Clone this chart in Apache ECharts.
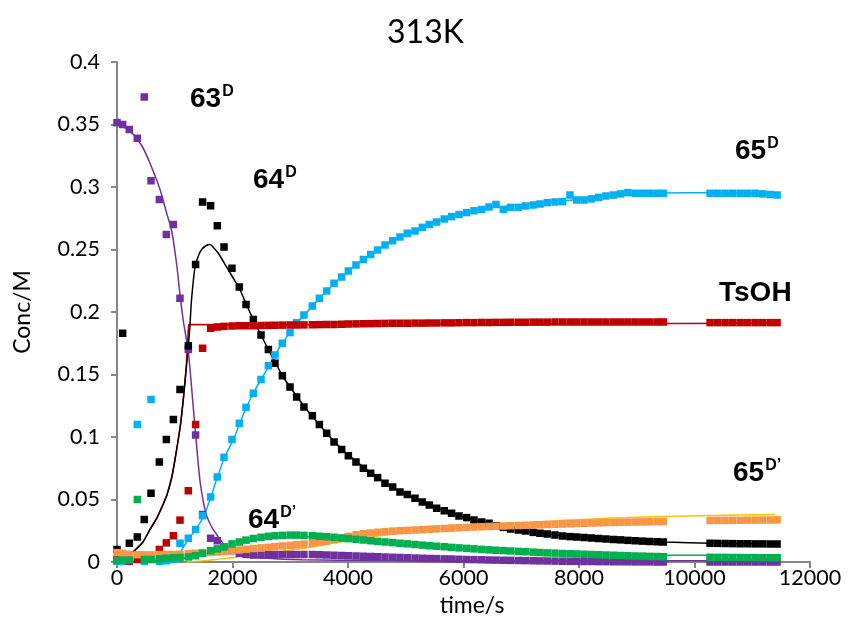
<!DOCTYPE html>
<html>
<head>
<meta charset="utf-8">
<script src="https://cdn.jsdelivr.net/npm/echarts@6/dist/echarts.min.js"></script>
<style>
  html, body { margin: 0; padding: 0; background: #fff; }
  #chart { width: 851px; height: 630px; }
</style>
</head>
<body>
<div id="chart"></div>
<script>
// Sampling times (s) shared by all measured species
const times = [
  0, 98, 213, 352, 472, 589, 733, 854, 976, 1091,
  1235, 1361, 1482, 1621, 1737, 1853, 1991, 2118, 2234, 2361,
  2494, 2621, 2736, 2863, 2996, 3111, 3237, 3383, 3504, 3631,
  3758, 3890, 4006, 4138, 4266, 4393, 4513, 4641, 4773, 4900,
  5027, 5160, 5287, 5408, 5535, 5667, 5794, 5922, 6054, 6182,
  6314, 6441, 6563, 6690, 6817, 6950, 7076, 7206, 7325, 7450,
  7584, 7716, 7844, 7960, 8087, 8213, 8340, 8466, 8593, 8719,
  8846, 8972, 9099, 9225, 9352, 9460,
  10270, 10400, 10530, 10660, 10790, 10920, 11050, 11180, 11310, 11430
];

// Measured concentrations (M)
const conc63D = [
  0.3515, 0.350, 0.346, 0.339, 0.372, 0.305, 0.290, 0.262, 0.270, 0.211,
  0.170, 0.1016, 0.038, 0.019, 0.017, 0.012, 0.009, 0.007, 0.006, 0.0055,
  0.0055, 0.006, 0.006, 0.006, 0.006, 0.006, 0.006, 0.006, 0.0058, 0.0056,
  0.0054, 0.0052, 0.005, 0.0048, 0.0046, 0.0044, 0.0042, 0.004, 0.0038, 0.0036,
  0.0034, 0.0032, 0.003, 0.0028, 0.0027, 0.0025, 0.0024, 0.0022, 0.002, 0.0019,
  0.0018, 0.0016, 0.0015, 0.0014, 0.0013, 0.0012, 0.0011, 0.001, 0.0009, 0.0008,
  0.0007, 0.0006, 0.0005, 0.0005, 0.0004, 0.0004, 0.0003, 0.0003, 0.0002, 0.0002,
  0.0002, 0.0001, 0.0001, 0.0001, 0.0, 0.0,
  0, 0, 0, 0, 0, 0, 0, 0, 0, 0
];
const conc64D = [
  0.010, 0.183, 0.015, 0.020, 0.034, 0.055, 0.080, 0.098, 0.114, 0.138,
  0.173, 0.238, 0.288, 0.285, 0.269, 0.252, 0.235, 0.220, 0.206, 0.194,
  0.1816, 0.170, 0.159, 0.149, 0.140, 0.132, 0.124, 0.117, 0.110, 0.103,
  0.096, 0.090, 0.085, 0.080, 0.075, 0.071, 0.0675, 0.063, 0.060, 0.056,
  0.054, 0.051, 0.048, 0.0456, 0.043, 0.041, 0.039, 0.0368, 0.0355, 0.0336,
  0.032, 0.031, 0.029, 0.0277, 0.0264, 0.0256, 0.0248, 0.0237, 0.023, 0.0224,
  0.0216, 0.0208, 0.0203, 0.020, 0.0196, 0.0192, 0.0188, 0.0184, 0.018, 0.0177,
  0.0173, 0.017, 0.0167, 0.0164, 0.0162, 0.016,
  0.015, 0.0149, 0.0148, 0.0147, 0.0146, 0.0146, 0.0145, 0.0145, 0.0144, 0.0144
];
const conc65D = [
  0.0005, 0.0005, 0.0005, 0.110, 0.0005, 0.130, 0.0005, 0.001, 0.002, 0.015,
  0.019, 0.026, 0.037, 0.052, 0.068, 0.0837, 0.098, 0.111, 0.1237, 0.135,
  0.146, 0.157, 0.1656, 0.175, 0.1835, 0.1915, 0.1976, 0.2048, 0.211, 0.2168,
  0.223, 0.228, 0.2328, 0.2376, 0.242, 0.246, 0.2496, 0.2536, 0.257, 0.260,
  0.263, 0.2648, 0.2677, 0.270, 0.272, 0.2744, 0.2763, 0.278, 0.2795, 0.281,
  0.282, 0.284, 0.286, 0.282, 0.2837, 0.2837, 0.2848, 0.2856, 0.2864, 0.2875,
  0.288, 0.2883, 0.2936, 0.2896, 0.2896, 0.2905, 0.2917, 0.2928, 0.2936, 0.2945,
  0.2955, 0.295, 0.295, 0.295, 0.295, 0.295,
  0.295, 0.295, 0.295, 0.295, 0.295, 0.295, 0.295, 0.2945, 0.294, 0.2936
];
const concTsOH = [
  0.002, 0.002, 0.0007, 0.002, 0.003, 0.004, 0.010, 0.0153, 0.021, 0.0335,
  0.057, 0.110, 0.171, 0.187, 0.188, 0.1885, 0.1888, 0.189, 0.189, 0.189,
  0.1892, 0.1893, 0.1894, 0.1895, 0.1896, 0.1896, 0.1897, 0.1898, 0.1899, 0.190,
  0.190, 0.1902, 0.1904, 0.1905, 0.1906, 0.1907, 0.1908, 0.1909, 0.191, 0.191,
  0.191, 0.1911, 0.1911, 0.1912, 0.1912, 0.1913, 0.1913, 0.1914, 0.1915, 0.1915,
  0.1916, 0.1916, 0.1917, 0.1917, 0.1918, 0.1918, 0.1918, 0.1919, 0.1919, 0.1919,
  0.192, 0.192, 0.192, 0.192, 0.192, 0.192, 0.192, 0.192, 0.192, 0.192,
  0.192, 0.192, 0.192, 0.192, 0.192, 0.192,
  0.1915, 0.1915, 0.1915, 0.1915, 0.1915, 0.1915, 0.1915, 0.1915, 0.1915, 0.1915
];
const conc64Dp = [
  0.0012, 0.0015, 0.0015, 0.050, 0.002, 0.002, 0.0025, 0.003, 0.0034, 0.0036,
  0.004, 0.005, 0.007, 0.009, 0.0105, 0.012, 0.0145, 0.016, 0.0175, 0.0188,
  0.0198, 0.0205, 0.021, 0.0213, 0.0215, 0.0215, 0.0213, 0.021, 0.0206, 0.0202,
  0.0198, 0.0192, 0.0187, 0.0181, 0.0176, 0.017, 0.0165, 0.016, 0.0155, 0.015,
  0.0145, 0.014, 0.0135, 0.013, 0.0126, 0.0122, 0.0117, 0.0113, 0.0109, 0.0105,
  0.0101, 0.0097, 0.0094, 0.0091, 0.0088, 0.0085, 0.0082, 0.0079, 0.0076, 0.0073,
  0.0071, 0.0068, 0.0066, 0.0064, 0.0062, 0.006, 0.0058, 0.0056, 0.0054, 0.0052,
  0.005, 0.0048, 0.0047, 0.0045, 0.0044, 0.0042,
  0.0038, 0.0037, 0.0037, 0.0036, 0.0036, 0.0035, 0.0035, 0.0034, 0.0034, 0.0034
];
const conc65Dp = [
  0.0075, 0.007, 0.006, 0.0058, 0.0057, 0.0057, 0.006, 0.006, 0.006, 0.0062,
  0.0066, 0.007, 0.0073, 0.0076, 0.008, 0.0085, 0.009, 0.0096, 0.0102, 0.0108,
  0.0113, 0.0118, 0.0123, 0.0128, 0.0133, 0.0138, 0.0143, 0.015, 0.0158, 0.0167,
  0.0178, 0.019, 0.0205, 0.0218, 0.0226, 0.0232, 0.0238, 0.0243, 0.0247, 0.025,
  0.0253, 0.0256, 0.0259, 0.0262, 0.0265, 0.0268, 0.0271, 0.0274, 0.0277, 0.028,
  0.0282, 0.0284, 0.0286, 0.0288, 0.029, 0.0292, 0.0294, 0.0296, 0.0298, 0.030,
  0.0302, 0.0304, 0.0306, 0.0308, 0.031, 0.0312, 0.0313, 0.0315, 0.0316, 0.0318,
  0.0319, 0.032, 0.0321, 0.0322, 0.0323, 0.0324,
  0.0332, 0.0333, 0.0333, 0.0334, 0.0334, 0.0335, 0.0335, 0.0336, 0.0336, 0.0337
];

// Simulated (fitted) curves as [time, conc] pairs
const fit63D = [
  [0, 0.351], [150, 0.347], [283, 0.342], [430, 0.333], [571, 0.319], [745, 0.298],
  [860, 0.279], [947, 0.265], [1033, 0.238], [1091, 0.214], [1148, 0.193], [1235, 0.168],
  [1300, 0.135], [1361, 0.102], [1437, 0.065], [1500, 0.047], [1552, 0.037], [1640, 0.028],
  [1725, 0.022], [1800, 0.017], [1900, 0.012], [2050, 0.008], [2250, 0.005], [2600, 0.003],
  [3200, 0.0018], [4500, 0.0012], [7000, 0.001], [11400, 0.001]
];
const fit64D = [
  [170, 0.005], [300, 0.009], [450, 0.016], [571, 0.026], [700, 0.036], [860, 0.053],
  [950, 0.068], [1033, 0.09], [1100, 0.11], [1148, 0.13], [1200, 0.155], [1235, 0.173],
  [1264, 0.19], [1291, 0.21], [1351, 0.236], [1410, 0.245], [1466, 0.25], [1540, 0.253],
  [1610, 0.254], [1680, 0.251], [1754, 0.247], [1899, 0.236], [2000, 0.228], [2118, 0.219],
  [2250, 0.205], [2361, 0.194], [2500, 0.181], [2621, 0.17], [2750, 0.159], [2863, 0.149],
  [2996, 0.14], [3250, 0.124], [3500, 0.11], [3750, 0.097], [4000, 0.086], [4500, 0.068],
  [5000, 0.054], [5500, 0.044], [6000, 0.036], [6500, 0.03], [7000, 0.025], [7500, 0.0222],
  [8000, 0.02], [8500, 0.0183], [9000, 0.017], [9500, 0.016], [10300, 0.015], [11400, 0.0144]
];
const fit65D = [
  [1000, 0.0], [1050, 0.003], [1100, 0.008], [1150, 0.012], [1235, 0.018], [1361, 0.026],
  [1495, 0.036], [1610, 0.05], [1725, 0.066], [1857, 0.083], [2015, 0.098], [2118, 0.11],
  [2234, 0.123], [2361, 0.135], [2494, 0.146], [2621, 0.156], [2736, 0.1656], [2863, 0.175],
  [2996, 0.1835], [3111, 0.191], [3383, 0.2045], [3631, 0.2168], [3890, 0.228], [4138, 0.2376],
  [4393, 0.246], [4641, 0.2536], [4900, 0.26], [5160, 0.265], [5408, 0.27], [5667, 0.2744],
  [5922, 0.278], [6182, 0.281], [6441, 0.2835], [6690, 0.2845], [6950, 0.2855], [7206, 0.2865],
  [7450, 0.2875], [7716, 0.2888], [7960, 0.29], [8466, 0.2925], [8972, 0.2945], [9460, 0.2952],
  [10300, 0.2955], [11400, 0.2945]
];
const fitTsOH = [
  [170, 0.005], [300, 0.009], [450, 0.016], [571, 0.026], [700, 0.036], [860, 0.053],
  [950, 0.068], [1033, 0.09], [1100, 0.11], [1148, 0.13], [1200, 0.157], [1225, 0.178],
  [1240, 0.19], [3000, 0.1898], [6000, 0.1905], [11400, 0.191]
];
const fit64Dp = [
  [0, 0.0], [500, 0.0008], [1000, 0.002], [1300, 0.004], [1500, 0.006], [1800, 0.01],
  [2100, 0.0145], [2400, 0.0178], [2700, 0.0196], [3000, 0.0203], [3300, 0.0203], [3700, 0.0195],
  [4200, 0.0175], [4700, 0.0153], [5200, 0.0132], [5700, 0.0114], [6200, 0.0098], [6700, 0.0085],
  [7200, 0.0075], [7700, 0.0067], [8200, 0.0061], [8700, 0.0057], [9200, 0.0055], [9700, 0.0054],
  [10300, 0.0054], [11400, 0.0053]
];
const fit65Dp = [
  [1200, 0.0], [1500, 0.001], [1800, 0.0025], [2200, 0.0045], [2600, 0.0068], [3000, 0.0095],
  [3500, 0.013], [3800, 0.0155], [4500, 0.0205], [5000, 0.0235], [5500, 0.026], [6000, 0.028],
  [6500, 0.0298], [7000, 0.0313], [7500, 0.0327], [8000, 0.0339], [8500, 0.035], [9000, 0.0358],
  [9500, 0.0365], [10300, 0.0372], [11400, 0.038]
];

// Axis ticks
const xTicks = { min: 0, max: 12000, step: 2000 };
const yTicks = { min: 0, max: 0.4, step: 0.05 };

const pts = vals => vals.map((v, i) => [times[i], v]);

const tickFont = 'Lato';
const labelFont = 'Liberation Sans';

function markerSeries(name, vals, color) {
  return {
    name, type: 'scatter', data: pts(vals), symbol: 'rect', symbolSize: 7.5,
    itemStyle: { color, opacity: 1 }, z: 3, silent: true
  };
}
function fitSeries(name, data, color, width, smooth) {
  return {
    name, type: 'line', data, showSymbol: false, smooth: smooth,
    lineStyle: { color, width }, z: 2, silent: true
  };
}
function tag(x, y, main, sup) {
  return {
    type: 'text', left: x, top: y,
    style: {
      text: sup ? '{n|' + main + '}{s|' + sup + '}' : '{n|' + main + '}',
      rich: {
        n: { fontSize: 28, fontWeight: 'bold', fontFamily: labelFont, fill: '#000', color: '#000' },
        s: { fontSize: 16, fontWeight: 'bold', fontFamily: labelFont, fill: '#000', color: '#000', verticalAlign: 'top', padding: [0, 0, 15, 1] }
      }
    }
  };
}

const chart = echarts.init(document.getElementById('chart'), null, { renderer: 'canvas' });
chart.setOption({
  animation: false,
  backgroundColor: '#fff',
  title: {
    text: '313K', left: 'center', top: 12,
    textStyle: { fontFamily: tickFont, fontSize: 32, fontWeight: 'normal', color: '#000' }
  },
  grid: { left: 117, right: 41, top: 62, bottom: 68 },
  xAxis: {
    type: 'value', min: xTicks.min, max: xTicks.max, interval: xTicks.step,
    name: 'time/s', nameLocation: 'middle', nameGap: 19,
    nameTextStyle: { fontFamily: tickFont, fontSize: 23, color: '#000', padding: [0, 0, 0, 17] },
    axisLine: { lineStyle: { color: '#868686', width: 2 } },
    axisTick: { show: true, inside: false, length: 6, lineStyle: { color: '#868686', width: 2 } },
    axisLabel: { fontFamily: tickFont, fontSize: 21.5, color: '#000', margin: 5, formatter: v => String(v) },
    splitLine: { show: false }
  },
  yAxis: {
    type: 'value', min: yTicks.min, max: yTicks.max, interval: yTicks.step,
    name: 'Conc/M', nameLocation: 'middle', nameGap: 83, nameRotate: 90,
    nameTextStyle: { fontFamily: tickFont, fontSize: 23, color: '#000' },
    axisLine: { show: true, lineStyle: { color: '#868686', width: 2 } },
    axisTick: { show: true, inside: false, length: 6, lineStyle: { color: '#868686', width: 2 } },
    axisLabel: { fontFamily: tickFont, fontSize: 21.5, color: '#000', margin: 17 },
    splitLine: { show: false }
  },
  series: [
    fitSeries('63D fit', fit63D, '#7030A0', 1.5, 0.3),
    fitSeries('TsOH fit', fitTsOH, '#C00000', 1.5, false),
    fitSeries('64D fit', fit64D, '#000000', 1.5, 0.3),
    fitSeries('65D fit', fit65D, '#00B0F0', 1.5, 0.3),
    fitSeries("64D' fit", fit64Dp, '#00B050', 1.5, 0.3),
    fitSeries("65D' fit", fit65Dp, '#FFC000', 1.5, 0.3),
    markerSeries('63D', conc63D, '#7030A0'),
    markerSeries('64D', conc64D, '#000000'),
    markerSeries('65D', conc65D, '#00B0F0'),
    markerSeries('TsOH', concTsOH, '#C00000'),
    markerSeries("65D'", conc65Dp, '#F79646'),
    markerSeries("64D'", conc64Dp, '#00B050')
  ],
  graphic: [
    tag(190, 84, '63', 'D'),
    tag(253, 165, '64', 'D'),
    tag(735, 136, '65', 'D'),
    tag(719, 279, 'TsOH', null),
    tag(733, 458, '65', 'D\u2019'),
    tag(248, 505, '64', 'D\u2019')
  ]
});
</script>
</body>
</html>
